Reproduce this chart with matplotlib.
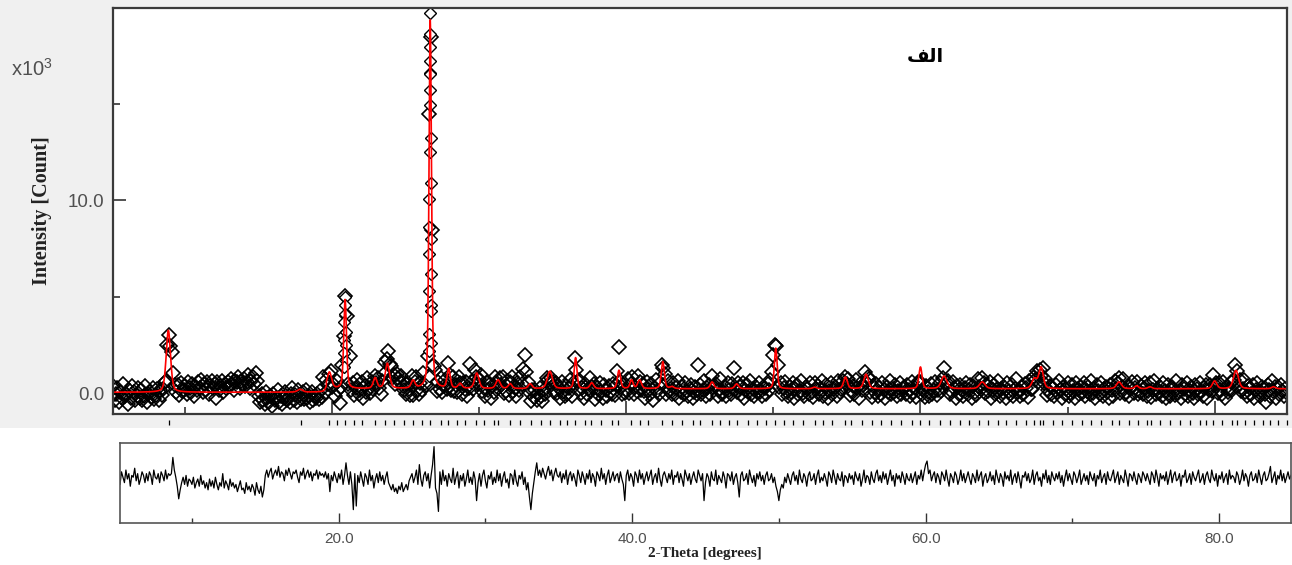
import numpy as np
import matplotlib
matplotlib.use("Agg")
import matplotlib.pyplot as plt
from matplotlib.patches import Rectangle
from matplotlib.transforms import blended_transform_factory

"""
Rietveld style plot: observed points, calculated profile, difference curve
values read off the reference picture (intensity in x10^3 counts)
"""

# scan grid of the observed points (deg 2-theta)
x_start = 5.0
x_step = 0.1

# calculated profile: peak position, height above background, fwhm
peak_pos = [8.86, 17.82, 19.81, 20.88, 22.92, 23.75, 25.5, 26.66, 26.74, 27.92, 28.7, 29.83,
            31.28, 32.1, 33.46, 34.8, 36.55, 37.65, 39.5, 40.35, 40.9, 42.48, 43.1, 45.83,
            47.5, 50.16, 52.8, 54.9, 56.3, 60.0, 61.6, 64.2, 67.75, 68.2, 73.5, 74.7,
            75.6, 80.0, 81.45, 84.0]
peak_height = [3.2, 0.15, 0.85, 4.6, 0.55, 1.3, 0.4, 17.5, 2.4, 1.0, 0.25, 0.8,
               0.45, 0.25, 0.25, 0.9, 1.6, 0.3, 0.95, 0.45, 0.45, 1.4, 0.1, 0.35,
               0.25, 2.1, 0.08, 0.6, 0.75, 1.12, 0.65, 0.35, 0.5, 1.1, 0.35, 0.15,
               0.1, 0.4, 0.95, 0.1]
peak_fwhm = [0.35, 0.4, 0.35, 0.22, 0.3, 0.35, 0.3, 0.19, 0.2, 0.25, 0.3, 0.35,
             0.35, 0.3, 0.3, 0.4, 0.22, 0.3, 0.25, 0.25, 0.3, 0.25, 0.3, 0.3,
             0.3, 0.22, 0.3, 0.3, 0.35, 0.25, 0.45, 0.45, 0.4, 0.35, 0.4, 0.3,
             0.3, 0.35, 0.4, 0.3]
bg_low = 0.08    # background below bg_step
bg_high = 0.26
bg_step = 19.6

# difference curve (calc - obs), units of 0.1 x10^3 counts, one value per 0.1 deg
diff_05 = [2, -3, 4, 1, -2, 5, 0, 3, -4, 2, 1, 6, -1, 3, -3, 0, 4, 2, -2, 3,
           -1, 4, 2, -3, 5, 1, 0, 3, -2, 4, 2, -1, 5, 0, 3, 2, 3, 12, 5, 1,
           -4, -11, -6, -2, 1, -3, 2, -4, 0, -1, -3, 1, -5, -2, 0, -4, 2, -3, -1, -5,
           -2, -6, 0, -4, -1, -5, 1, -3, -6, -2, -4, 3, -5, -1, -3, -6, 0, -4, -2, -5,
           -3, -7, -4, -1, -6, -5, -8, -2, -6, -4, -7, -3, -5, -9, -2, -6, -8, -4, -10, -6]
diff_15 = [2, 5, 1, 4, 6, 0, 3, 5, 2, 7, 1, 4, 3, -1, 5, 2, 6, 3, 0, 4,
           3, 5, 1, -2, 4, 2, 6, 0, 3, 5, 1, 4, -1, 3, 2, 5, 0, 4, 2, 3,
           1, 4, 0, 3, -7, 2, -1, 4, 1, -2, 3, 0, 5, -3, 2, 9, 2, -3, 4, -3,
           -17, 3, -15, 2, -2, 4, 0, -4, 3, 1, -3, 5, -1, 2, -5, 0, 3, -2, 4, -1,
           2, -3, 1, 4, -2, -4, -6, -3, -7, -5, -8, -4, -6, -2, -7, -5, -3, -6, -1, 1]
diff_25 = [3, -2, 1, 5, -3, 8, 0, -4, 2, 4, -1, 3, -5, 2, 8, 18, -5, -8, -18, 4,
           -3, 5, -1, 2, -4, 3, 0, -2, 6, -3, 1, 4, -5, 2, -1, 3, -4, 0, 5, -2,
           1, -3, 4, 0, -12, -2, 3, -4, 2, 5, -1, -5, 2, 0, 4, -3, 1, -2, 5, -1,
           3, -4, 1, 4, -2, 0, -5, 3, 2, -3, 5, -1, -4, 2, 0, 4, -3, 1, -6, -2,
           -10, -17, -8, -2, 4, 9, 2, 5, 1, 6, 3, 0, 4, 7, 2, 5, -1, 3, 6, 2]
diff_35 = [1, 4, -2, 3, 0, 5, -3, 2, 4, -1, 3, 0, -4, 5, 2, -2, 4, 1, -3, 3,
           0, 5, -2, 3, 1, -4, 4, 2, -1, 6, 0, 3, -3, 2, 5, -2, 1, 4, -1, 2,
           3, -2, 4, 0, -3, -12, 2, 5, -1, 3, 1, -4, 4, 2, -2, 5, 0, 3, -3, 1,
           4, -1, 2, 5, -3, 1, 3, -2, 6, 0, -4, 2, 4, 1, -2, 3, 0, 5, -3, 2,
           1, 4, -2, 3, 0, -4, 5, 2, -1, 3, -3, 1, 4, 0, -2, 5, 2, -1, 3, -12]
diff_45 = [-2, 3, 1, -4, 4, 0, -1, 5, -3, 2, 0, -2, 4, 1, -5, 3, 2, -1, 4, -3,
           1, 3, -2, -10, 2, 4, -1, 0, 3, -3, 5, 1, -2, 2, -4, 3, 0, 4, -1, 2,
           -3, 2, 4, -1, 0, 3, -2, 1, -4, -7, -12, -6, -3, -5, 1, -2, 3, 0, -3, 2,
           4, -1, 2, -3, 5, 0, -2, 3, 1, -4, 2, 4, -1, 0, 3, -3, 2, 5, -2, 1,
           -1, 3, 0, -4, 4, 2, -2, 5, 1, -3, 3, 0, -1, 4, -4, 2, 1, -2, 3, 0]
diff_55 = [2, -3, 4, 1, -1, 3, -4, 0, 5, -2, 2, 1, -3, 4, 0, -2, 3, 5, -1, 2,
           -2, 4, 0, 3, -3, 1, 5, -1, 2, -4, 3, 0, 2, -2, 4, 1, -3, 3, 0, -1,
           3, -2, 1, 4, -3, 2, 0, 5, -1, 4, 8, 10, 3, 5, -1, 2, 4, -2, 3, 1,
           -3, 4, 2, -1, 5, 0, -4, 3, 1, -2, 4, 2, -3, 0, 5, -1, 3, -2, 1, 4,
           0, -3, 3, 1, -2, 5, -1, 2, 4, -4, 1, 3, -2, 0, 4, -1, 2, -3, 5, 1]
diff_65 = [-2, 3, 1, -4, 4, 0, 2, -1, 5, -3, 1, 3, -2, 4, 0, -5, 2, 1, 4, -1,
           3, -2, 0, 5, -3, 2, 4, -1, 1, -4, 3, 0, 5, -2, 2, -3, 4, 1, -1, 3,
           0, 4, -2, 2, -4, 1, 5, -1, 3, 0, -3, 4, 2, -2, 1, 5, -3, 0, 3, -1,
           2, -3, 4, 1, -1, 3, -4, 2, 0, 5, -2, 1, 3, -3, 4, 0, -1, 2, 5, -2,
           1, 4, -3, 2, 0, -2, 5, 1, -4, 3, 2, -1, 4, 0, -3, 3, 1, -2, 4, 2]
diff_75 = [-1, 3, 0, -3, 4, 2, -2, 5, 1, -4, 3, 0, 2, -1, 4, -3, 1, 5, -2, 2,
           4, -1, 0, 3, -4, 2, 1, 5, -2, 0, 3, -3, 4, 1, -1, 2, 5, -2, 0, 3,
           -3, 2, 4, 0, -2, 5, 1, -1, 3, -4, 2, 0, 4, -2, 1, 3, -3, 5, 0, 2,
           1, -2, 4, 2, -3, 0, 5, -1, 3, 1, -4, 2, 4, -1, 0, 3, -2, 5, 1, -3,
           2, 4, -1, 0, 3, 7, -2, 1, 4, -3, 2, 0, 5, -1, 3, -2, 1, 4, 0, 2]

# extra observed points on the flanks of the two strongest reflections
flank_x = [26.66, 26.63, 26.63, 26.64, 26.63, 26.64, 26.63, 26.64, 26.70, 26.62, 26.71, 26.61,
           26.60, 26.72, 26.60, 26.73, 26.59, 26.74, 26.73, 26.58, 26.75, 26.57, 26.77, 26.55,
           20.87, 20.85, 20.90, 20.83, 20.92, 20.82, 20.93, 20.80, 20.95, 20.78]
flank_y = [19.7, 18.6, 17.9, 17.2, 16.6, 16.5, 15.7, 14.9, 13.2, 12.5, 10.9, 10.05,
           8.6, 8.0, 7.2, 6.2, 5.3, 4.6, 4.3, 3.1, 2.6, 2.2, 1.5, 0.9,
           5.0, 4.6, 4.1, 3.7, 3.2, 2.8, 2.5, 2.1, 1.7, 1.4]

# reflection markers under the top panel
bragg_pos = [8.9, 17.9, 19.8, 20.3, 20.86, 21.5, 22.0, 22.9, 23.6, 24.2, 24.9, 25.5, 26.1, 26.64,
             27.4, 27.9, 28.5, 29.0, 29.8, 30.3, 31.0, 31.3, 32.1, 32.8, 33.5, 34.2, 34.8, 35.5,
             36.0, 36.54, 37.2, 37.6, 38.3, 39.0, 39.46, 40.3, 40.9, 41.5, 42.45, 43.1, 43.8,
             44.5, 45.0, 45.8, 46.4, 47.0, 47.5, 48.3, 48.9, 49.5, 50.14, 50.7, 51.3, 52.0,
             52.8, 53.4, 54.0, 54.87, 55.3, 56.0, 56.7, 57.3, 58.0, 58.7, 59.4, 59.96, 60.6,
             61.3, 62.0, 62.7, 63.3, 64.0, 64.6, 65.3, 65.8, 66.5, 67.2, 67.74, 68.14, 68.3,
             69.0, 69.6, 70.3, 71.0, 71.6, 72.3, 73.0, 73.47, 74.2, 74.8, 75.4, 75.66, 76.3,
             77.0, 77.66, 78.3, 79.0, 79.4, 79.88, 80.5, 81.17, 81.49, 82.1, 82.7, 83.3,
             83.8, 84.3, 84.9]


def profile(tt):
    y = np.where(tt < bg_step, bg_low, bg_high)
    for p, h, w in zip(peak_pos, peak_height, peak_fwhm):
        u = (tt - p) / w
        y = y + h * (0.6 * np.exp(-4 * np.log(2) * u**2) + 0.4 / (1 + 4 * u**2))
    return y


def main():
    plt.rcParams['mathtext.default'] = 'regular'
    diff = np.array(diff_05 + diff_15 + diff_25 + diff_35 + diff_45 + diff_55 + diff_65 + diff_75) / 10.0
    obs_x = x_start + x_step * np.arange(len(diff))
    obs_y = profile(obs_x) - diff
    calc_x = np.arange(5.0, 85.0, 0.005)
    calc_y = profile(calc_x)

    fig = plt.figure(figsize=(12.92, 5.65), dpi=100)
    fig.patches.append(Rectangle((0, 0.2425), 1, 0.7575, transform=fig.transFigure,
                                 facecolor='#f0f0f0', edgecolor='none', zorder=-10))

    # top panel
    ax = fig.add_axes([0.0875, 0.2681, 0.9086, 0.7172])
    mk = dict(ls='none', marker='D', ms=7.5, mfc='none', mec='black', mew=1.2)
    ax.plot(obs_x, obs_y, **mk)
    ax.plot(flank_x, flank_y, ls='none', marker='D', ms=6, mfc='white', mec='black', mew=1.0)
    ax.plot(calc_x, calc_y, color='red', lw=1.2)
    ax.set_xlim(5.1, 84.92)
    ax.set_ylim(-1.02, 19.92)
    ax.set_xticks([20, 40, 60, 80])
    ax.set_xticks([10, 30, 50, 70], minor=True)
    ax.set_xticklabels([])
    ax.set_yticks([0, 10])
    ax.set_yticks([5, 15], minor=True)
    ax.set_yticklabels(['0.0', '10.0'], fontfamily='Liberation Sans', fontsize=13.5, color='#505050')
    ax.tick_params(which='major', direction='in', length=9.5, width=1.2, color='#333333', pad=6)
    ax.tick_params(which='minor', direction='in', length=5, width=1.2, color='#333333')
    for s in ax.spines.values():
        s.set_linewidth(1.6)
        s.set_color('#3a3a3a')
    ax.set_ylabel('Intensity [Count]', fontfamily='Liberation Serif', fontweight='bold',
                  fontsize=14.5, color='#222222')
    ax.yaxis.set_label_coords(-0.052, 0.5)

    trans = blended_transform_factory(ax.transData, fig.transFigure)
    ax.vlines(bragg_pos, 1 - 425 / 565, 1 - 420 / 565, transform=trans, color='black',
              lw=0.9, clip_on=False)

    # difference panel
    ax2 = fig.add_axes([0.0929, 0.0738, 0.9063, 0.1427])
    ax2.plot(obs_x, diff, color='black', lw=0.9)
    ax2.set_xlim(5.1, 84.9)
    ax2.set_ylim(-2.46, 2.02)
    ax2.set_yticks([])
    ax2.set_xticks([20, 40, 60, 80])
    ax2.set_xticks([10, 30, 50, 70], minor=True)
    ax2.set_xticklabels(['20.0', '40.0', '60.0', '80.0'], fontfamily='Liberation Sans',
                        fontsize=11, color='#505050')
    ax2.tick_params(which='major', direction='in', length=7, width=1, color='#333333', pad=6)
    ax2.tick_params(which='minor', direction='in', length=3.6, width=1, color='#333333')
    for s in ax2.spines.values():
        s.set_linewidth(1.2)
        s.set_color('#555555')

    fig.text(705 / 1292, 1 - 553 / 565, '2-Theta [degrees]', fontfamily='Liberation Serif',
             fontweight='bold', fontsize=11, ha='center', va='center', color='#222222')
    fig.text(11 / 1292, 1 - 76 / 565, 'x10$^3$', fontfamily='Liberation Sans', fontsize=14.5,
             color='#505050', ha='left', va='baseline')
    # Arabic label, letters given in their joined (presentation) forms
    fig.text(925 / 1292, 1 - 57 / 565, '\ufed2\ufedf\ufe8d', fontfamily='DejaVu Sans',
             fontweight='bold', fontsize=14, ha='center', va='center', color='black')

    fig.savefig('out.png', dpi=100)


main()
